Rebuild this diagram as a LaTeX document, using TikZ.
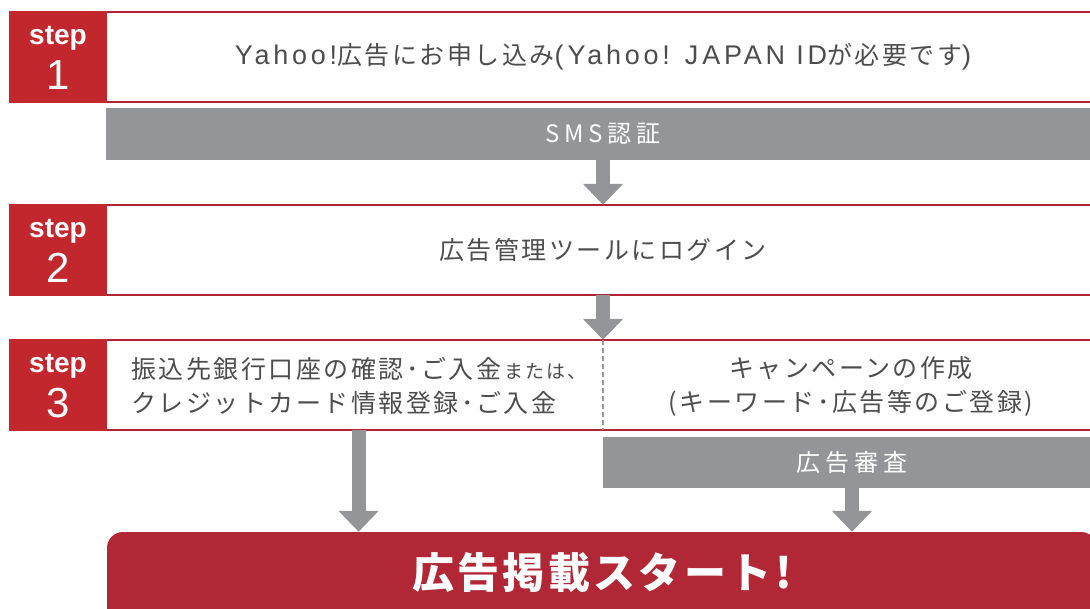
\documentclass[tikz,border=0pt]{standalone}
\usepackage{fontspec}
\setmainfont{Noto Sans CJK JP}
\newfontfamily\flowfont[LetterSpace=10]{Noto Sans CJK JP}
\newfontfamily\latinfont[LetterSpace=14]{Liberation Sans}
\newfontfamily\barfont[LetterSpace=20]{Noto Sans CJK JP}
\newfontfamily\startfont[LetterSpace=8]{Noto Sans CJK JP}
\newfontfamily\stepfont{Liberation Sans}
\usetikzlibrary{arrows.meta,positioning}
\definecolor{steprd}{HTML}{C1272D}
\definecolor{linerd}{HTML}{B22234}
\definecolor{startrd}{HTML}{B12736}
\definecolor{bargray}{HTML}{939598}
\definecolor{txtgray}{HTML}{4D4D4D}
\newcommand\latin[1]{{\latinfont\fontsize{27}{34}\selectfont #1}}

\begin{document}
\begin{tikzpicture}[x=1pt,y=-1pt,
  every node/.style={inner sep=0pt},
  steplab/.style={fill=steprd, minimum width=98pt, minimum height=92pt},
  rowbox/.style={fill=white, minimum width=992pt, minimum height=90pt},
  rowline/.style={draw=linerd, line width=2.2pt},
  graybar/.style={fill=bargray, text=white, font=\barfont\fontsize{24}{24}\selectfont},
  flowtext/.style={text=txtgray, font=\flowfont\fontsize{25}{34}\selectfont},
  steptext/.style={text=white, font=\stepfont\bfseries\fontsize{28}{28}\selectfont},
  stepnum/.style={text=white, font=\stepfont\fontsize{42}{42}\selectfont},
  divline/.style={draw=bargray, line width=2pt, dash pattern=on 5pt off 3pt},
  bigarrow/.style={draw=bargray, line width=14pt, -{Triangle[width=39pt,length=21pt]}}
]
\useasboundingbox (0,0) rectangle (1090,609);
\clip (0,0) rectangle (1090,609);

% step 1
\node[rowbox] (row1) at (603,57) {};
\draw[rowline] (row1.north west) -- (row1.north east) (row1.south west) -- (row1.south east);
\node[flowtext] (apply) at (603,57)
  {\latin{Yahoo!}広告にお申し込み\latin{(Yahoo! JAPAN ID}が必要です\latin{)}};
\node[steplab] (lab1) at (58,57) {};
\node[steptext] at ([yshift=19]lab1.center) {step};
\node[stepnum] at ([yshift=-18]lab1.center) {1};

\node[graybar, minimum width=994pt, minimum height=52pt] (sms) at (603,134) {SMS認証};

% step 2
\node[rowbox] (row2) at (603,250) {};
\draw[rowline] (row2.north west) -- (row2.north east) (row2.south west) -- (row2.south east);
\node[flowtext] (login) at (603,250) {広告管理ツールにログイン};
\node[steplab] (lab2) at (58,250) {};
\node[steptext] at ([yshift=19]lab2.center) {step};
\node[stepnum] at ([yshift=-18]lab2.center) {2};

% step 3
\node[rowbox] (row3) at (603,385) {};
\draw[rowline] (row3.north west) -- (row3.north east) (row3.south west) -- (row3.south east);
\draw[divline] (row3.north) -- (row3.south);
\node[flowtext, align=left, anchor=west] (pay) at (131,386)
  {振込先銀行口座の確認･ご入金{\fontsize{19}{34}\selectfont\,または、}\\クレジットカード情報登録･ご入金};
\node[flowtext, align=center] (camp) at (851,386) {キャンペーンの作成\\(キーワード･広告等のご登録)};
\node[steplab] (lab3) at (58,385) {};
\node[steptext] at ([yshift=19]lab3.center) {step};
\node[stepnum] at ([yshift=-18]lab3.center) {3};

\node[graybar, minimum width=498pt, minimum height=51pt] (review) at (852,462.5) {広告審査};

% start
\node[fill=startrd, rounded corners=16pt, minimum width=990pt, minimum height=128pt] (start) at (602,596) {};
\node[text=white, font=\startfont\bfseries\fontsize{42}{42}\selectfont] (go) at (602,573) {広告掲載スタート!};

\draw[bigarrow] (sms) -- (row2);
\draw[bigarrow] (row2) -- (row3);
\draw[bigarrow] (row3.south -| pay) -- (start.north -| pay);
\draw[bigarrow] (review) -- (start.north -| review);
\end{tikzpicture}
\end{document}
